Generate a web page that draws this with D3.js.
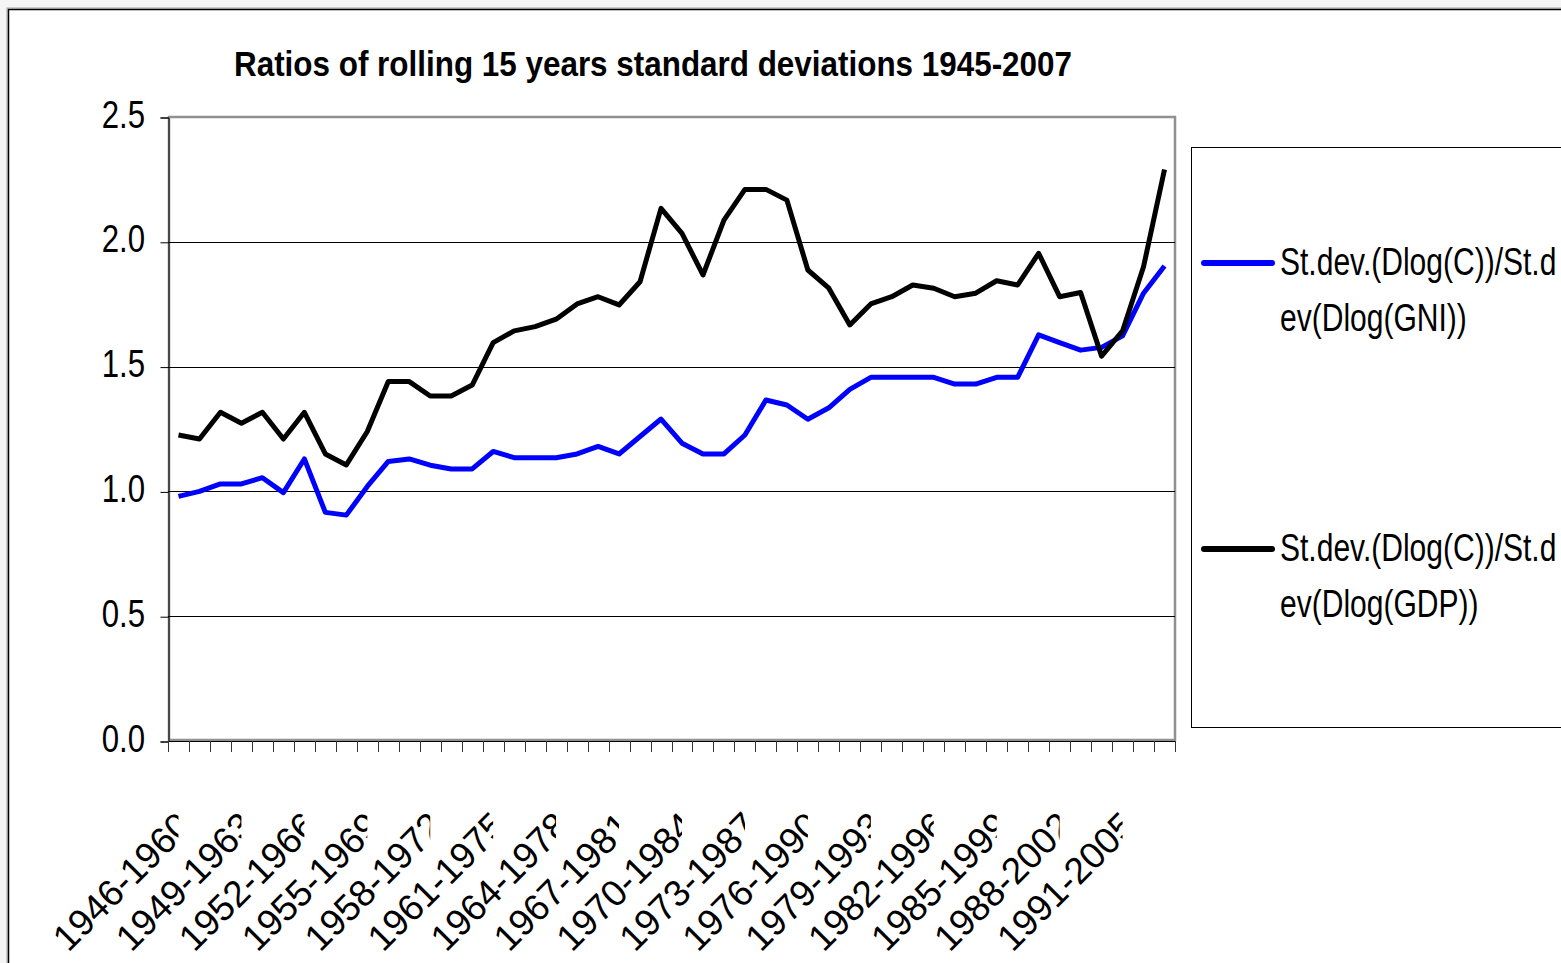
<!DOCTYPE html>
<html>
<head>
<meta charset="utf-8">
<script src="https://cdnjs.cloudflare.com/ajax/libs/d3/7.8.5/d3.min.js"></script>
<style>
	body { margin: 0; background: #f5f5f5; }
	svg { display: block; font-family: "Liberation Sans", Arial, sans-serif; }
</style>
</head>
<body>
<div id="content"></div>
<script>
// rolling 15 year windows
var categories = [
	"1946-1960", "1947-1961", "1948-1962", "1949-1963", "1950-1964", "1951-1965",
	"1952-1966", "1953-1967", "1954-1968", "1955-1969", "1956-1970", "1957-1971",
	"1958-1972", "1959-1973", "1960-1974", "1961-1975", "1962-1976", "1963-1977",
	"1964-1978", "1965-1979", "1966-1980", "1967-1981", "1968-1982", "1969-1983",
	"1970-1984", "1971-1985", "1972-1986", "1973-1987", "1974-1988", "1975-1989",
	"1976-1990", "1977-1991", "1978-1992", "1979-1993", "1980-1994", "1981-1995",
	"1982-1996", "1983-1997", "1984-1998", "1985-1999", "1986-2000", "1987-2001",
	"1988-2002", "1989-2003", "1990-2004", "1991-2005", "1992-2006", "1993-2007"
];

// St.dev.(Dlog(C))/St.dev(Dlog(GNI))
var gniRatio = [
	0.98, 1.00, 1.03, 1.03, 1.055, 0.995, 1.13, 0.916, 0.905, 1.02, 1.12, 1.13,
	1.105, 1.09, 1.09, 1.16, 1.135, 1.135, 1.135, 1.15, 1.18, 1.15, 1.22, 1.29,
	1.193, 1.15, 1.15, 1.226, 1.366, 1.346, 1.289, 1.335, 1.409, 1.457, 1.457, 1.457,
	1.457, 1.43, 1.43, 1.457, 1.457, 1.627, 1.596, 1.566, 1.577, 1.623, 1.794, 1.903
];

// St.dev.(Dlog(C))/St.dev(Dlog(GDP))
var gdpRatio = [
	1.226, 1.21, 1.317, 1.273, 1.317, 1.21, 1.317, 1.15, 1.106, 1.24, 1.44, 1.44,
	1.382, 1.382, 1.426, 1.596, 1.643, 1.66, 1.69, 1.751, 1.78, 1.747, 1.84, 2.134,
	2.034, 1.867, 2.087, 2.21, 2.21, 2.167, 1.887, 1.814, 1.667, 1.751, 1.78, 1.827,
	1.814, 1.78, 1.794, 1.844, 1.827, 1.954, 1.78, 1.797, 1.542, 1.643, 1.90, 2.29
];

var yTicks = [0, 0.5, 1.0, 1.5, 2.0, 2.5];
var labelStep = 3;
var legendLines = [
	["St.dev.(Dlog(C))/St.d", "ev(Dlog(GNI))"],
	["St.dev.(Dlog(C))/St.d", "ev(Dlog(GDP))"]
];
var seriesColors = ["#0000ff", "#000000"];
var titleText = "Ratios of rolling 15 years standard deviations 1945-2007";

function main() {
	var width = 1561;
	var height = 963;

	var svg = d3.select("#content")
		.append("svg")
		.attr("width", width)
		.attr("height", height);

	// chart area frame
	svg.append("rect")
		.attr("x", 7).attr("y", 8)
		.attr("width", 1700).attr("height", 1100)
		.attr("fill", "none")
		.attr("stroke", "#a0a0a0");
	svg.append("rect")
		.attr("x", 8.5).attr("y", 9.5)
		.attr("width", 1700).attr("height", 1100)
		.attr("fill", "#ffffff")
		.attr("stroke", "#000000")
		.attr("stroke-width", 1.5);

	var plot = { left: 168, right: 1175, top: 117, bottom: 741 };

	var x = d3.scaleBand()
		.domain(categories)
		.range([plot.left, plot.right]);

	var y = d3.scaleLinear()
		.domain([0, 2.5])
		.range([plot.bottom, plot.top]);

	// title
	svg.append("text")
		.attr("x", 653)
		.attr("y", 76)
		.attr("text-anchor", "middle")
		.attr("font-weight", "bold")
		.attr("font-size", 35)
		.attr("textLength", 838)
		.attr("lengthAdjust", "spacingAndGlyphs")
		.text(titleText);

	// plot area border
	svg.append("rect")
		.attr("x", plot.left + 1)
		.attr("y", plot.top)
		.attr("width", plot.right - plot.left - 1)
		.attr("height", plot.bottom - plot.top - 1)
		.attr("fill", "none")
		.attr("stroke", "#909090")
		.attr("stroke-width", 2.5);

	// gridlines
	svg.append("g")
		.selectAll("line")
		.data(yTicks.filter(function (d) { return d > 0 && d < 2.5; }))
		.enter().append("line")
		.attr("x1", plot.left).attr("x2", plot.right)
		.attr("y1", function (d) { return Math.round(y(d)) + 0.5; })
		.attr("y2", function (d) { return Math.round(y(d)) + 0.5; })
		.attr("stroke", "#000000")
		.attr("stroke-width", 1);

	// y axis
	var yAxis = d3.axisLeft(y)
		.tickValues(yTicks)
		.tickSize(8)
		.tickFormat(d3.format(".1f"));
	var yg = svg.append("g")
		.attr("transform", "translate(" + (plot.left + 0.5) + ",0.5)")
		.call(yAxis);
	yg.select(".domain").attr("stroke", "#000000");
	yg.selectAll(".tick line").attr("stroke", "#000000");
	yg.selectAll(".tick text").remove();

	// y labels (condensed)
	svg.append("g")
		.selectAll("text")
		.data(yTicks)
		.enter().append("text")
		.attr("transform", function (d) {
			return "translate(145," + (y(d) + 10.5) + ") scale(0.8,1)";
		})
		.attr("text-anchor", "end")
		.attr("font-size", 39)
		.text(function (d) { return d3.format(".1f")(d); });

	// x axis: ticks on category boundaries
	var bounds = categories.map(function (c) { return x(c); }).concat([plot.right]);
	svg.append("line")
		.attr("x1", plot.left).attr("x2", plot.right)
		.attr("y1", plot.bottom + 0.5).attr("y2", plot.bottom + 0.5)
		.attr("stroke", "#000000");
	svg.append("g")
		.selectAll("line")
		.data(bounds)
		.enter().append("line")
		.attr("x1", function (d) { return Math.round(d) + 0.5; })
		.attr("x2", function (d) { return Math.round(d) + 0.5; })
		.attr("y1", plot.bottom)
		.attr("y2", plot.bottom + 11)
		.attr("stroke", "#333333");

	// x labels, rotated and cut at their category centre
	var labelled = categories.filter(function (c, i) { return i % labelStep === 0; });
	var defs = svg.append("defs");
	labelled.forEach(function (c, i) {
		var cx = x(c) + x.bandwidth() / 2;
		defs.append("clipPath")
			.attr("id", "lab" + i)
			.append("rect")
			.attr("x", cx - 400).attr("y", plot.bottom + 12)
			.attr("width", 400).attr("height", 300);
		svg.append("g")
			.attr("clip-path", "url(#lab" + i + ")")
			.append("text")
			.attr("transform", "translate(" + (cx + 15) + ",828) rotate(-45)")
			.attr("text-anchor", "end")
			.attr("font-size", 37)
			.text(c);
	});

	// series lines
	var line = d3.line()
		.x(function (d, i) { return x(categories[i]) + x.bandwidth() / 2; })
		.y(function (d) { return y(d); });

	[gniRatio, gdpRatio].forEach(function (series, k) {
		svg.append("path")
			.datum(series)
			.attr("fill", "none")
			.attr("stroke", seriesColors[k])
			.attr("stroke-width", 5)
			.attr("stroke-linejoin", "round")
			.attr("d", line);
	});

	// legend
	var legend = svg.append("g");
	legend.append("rect")
		.attr("x", 1191.5).attr("y", 147.5)
		.attr("width", 500).attr("height", 580)
		.attr("fill", "#ffffff")
		.attr("stroke", "#000000");

	var legendY = [263, 549];
	legendLines.forEach(function (lines, k) {
		legend.append("line")
			.attr("x1", 1204).attr("x2", 1272)
			.attr("y1", legendY[k]).attr("y2", legendY[k])
			.attr("stroke", seriesColors[k])
			.attr("stroke-width", 6)
			.attr("stroke-linecap", "round");
		lines.forEach(function (t, j) {
			legend.append("text")
				.attr("transform", "translate(1280," + (legendY[k] + 12 + j * 56) + ") scale(0.77,1)")
				.attr("font-size", 39)
				.text(t);
		});
	});
}

(() => {
	main();
})()
</script>
</body>
</html>
